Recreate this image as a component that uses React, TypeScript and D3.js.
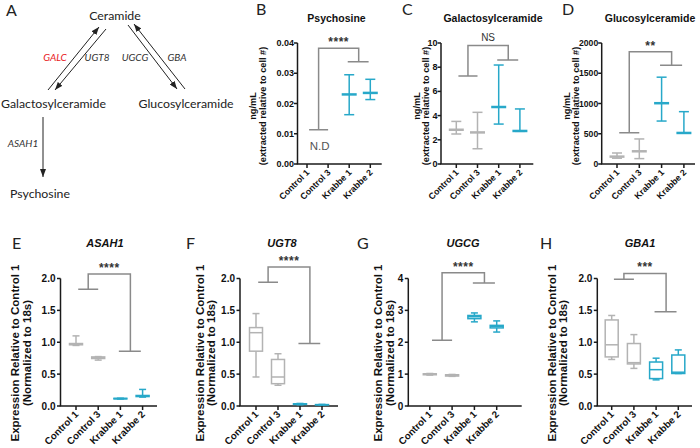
import React from "react";
import * as d3 from "d3";

// ---------- data ----------
const categories = ["Control 1", "Control 3", "Krabbe 1", "Krabbe 2"];
const groupColors = ["#b3b3b3", "#b3b3b3", "#27a8c9", "#27a8c9"];

// B Psychosine (mean, low, high); controls not detected
const psyMean = [NaN, NaN, 0.023, 0.0235];
const psyLow = [NaN, NaN, 0.0163, 0.0213];
const psyHigh = [NaN, NaN, 0.0295, 0.028];
const psyTicks = [0, 0.01, 0.02, 0.03, 0.04];
const psyBracket = [0.0113, 0.0338, 0.0383];

// C Galactosylceramide
const galMean = [2.83, 2.61, 4.71, 2.73];
const galLow = [2.48, 1.26, 3.3, 2.7];
const galHigh = [3.52, 4.27, 8.18, 4.55];
const galTicks = [0, 2, 4, 6, 8, 10];
const galBracket = [7.27, 8.6, 9.79];

// D Glucosylceramide
const gluMean = [122, 210, 1005, 513];
const gluLow = [96, 89, 710, 510];
const gluHigh = [182, 414, 1435, 865];
const gluTicks = [0, 500, 1000, 1500, 2000];
const gluBracket = [515, 1634, 1854];

// E-H box plots: [min, q1, median, q3, max]
const asah1Box = [
  [0.95, 0.96, 0.975, 0.98, 1.1],
  [0.72, 0.745, 0.755, 0.77, 0.775],
  [0.11, 0.112, 0.116, 0.12, 0.122],
  [0.14, 0.148, 0.158, 0.165, 0.26],
];
const asah1Bracket = [1.83, 0.86, 2.07];

const ugt8Box = [
  [0.455, 0.86, 1.15, 1.23, 1.45],
  [0.325, 0.35, 0.455, 0.73, 0.82],
  [0.02, 0.025, 0.03, 0.035, 0.04],
  [0.015, 0.018, 0.02, 0.022, 0.025],
];
const ugt8Bracket = [1.94, 0.98, 2.18];

const ugcgBox = [
  [0.97, 0.98, 1.0, 1.01, 1.02],
  [0.93, 0.94, 0.96, 0.98, 0.99],
  [2.64, 2.74, 2.8, 2.84, 2.92],
  [2.32, 2.45, 2.5, 2.53, 2.67],
];
const ugcgBracket = [2.06, 3.86, 4.18];

const gba1Box = [
  [0.73, 0.77, 0.96, 1.35, 1.42],
  [0.59, 0.66, 0.68, 0.98, 1.12],
  [0.41, 0.43, 0.57, 0.69, 0.75],
  [0.51, 0.51, 0.53, 0.8, 0.88],
];
const gba1Bracket = [1.99, 1.48, 2.08];

const exprTicks = [0, 0.5, 1.0, 1.5, 2.0];
const ugcgTicks = [0, 1, 2, 3, 4];

const FONT = "'Liberation Sans', Arial, sans-serif";
const BRACKET = "#8a8a8a";
const AXIS = "#1a1a1a";

type PanelCfg = {
  axisX: number; top: number; bottom: number; offset: number; step: number; endX: number;
  yMax: number; ticks: number[]; fmt: (v: number) => string;
  tickSize: number; xlabSize: number; ytSize: number; tickGap: number;
  title: string; italic: boolean; titleX: number; titleY: number; titleSize: number;
  letter: string; letterX: number; letterY: number;
  yTitle: string[]; yTitleX: number[]; yTitleY: number;
  kind: "err" | "box";
  mean?: number[]; low?: number[]; high?: number[];
  box?: number[][];
  bracket: number[]; sig: string; sigBold: boolean;
};

function Panel({ p }: { p: PanelCfg }) {
  const y = d3.scaleLinear().domain([0, p.yMax]).range([p.bottom, p.top]);
  const x0 = p.axisX + p.offset;
  const x = d3.scaleLinear().domain([0, 3]).range([x0, x0 + 3 * p.step]);
  const [lf, rf, tp] = p.bracket;
  const lv = x(0.55), rv = x(2.45);
  const bracketPath =
    `M${x(0.1)},${y(lf)}H${x(1.0)}M${lv},${y(lf)}V${y(tp)}H${rv}V${y(rf)}M${x(1.93)},${y(rf)}H${x(2.92)}`;
  return (
    <g>
      <text x={p.letterX} y={p.letterY} fontFamily="Lato, 'Open Sans', sans-serif" fontSize={16} fill="#222">{p.letter}</text>
      <text x={p.titleX} y={p.titleY} textAnchor="middle" fontFamily={FONT} fontWeight="bold"
        fontStyle={p.italic ? "italic" : "normal"} fontSize={p.titleSize} fill="#111">{p.title}</text>
      {p.yTitle.map((t, i) => (
        <text key={i} transform={`translate(${p.yTitleX[i]},${p.yTitleY}) rotate(-90)`} textAnchor="middle"
          dominantBaseline="central" fontFamily={FONT} fontWeight="bold" fontSize={p.ytSize} fill="#111">{t}</text>
      ))}
      {/* axes */}
      <line x1={p.axisX} x2={p.axisX} y1={y(p.yMax)} y2={y(0)} stroke={AXIS} strokeWidth={1.5} />
      <line x1={p.axisX - 0.75} x2={p.endX} y1={y(0)} y2={y(0)} stroke={AXIS} strokeWidth={1.5} />
      {p.ticks.map((t) => (
        <g key={t}>
          <line x1={p.axisX - 3.5} x2={p.axisX} y1={y(t)} y2={y(t)} stroke={AXIS} strokeWidth={1.5} />
          <text x={p.axisX - p.tickGap} y={y(t)} textAnchor="end" dominantBaseline="central" fontFamily={FONT}
            fontWeight="bold" fontSize={p.tickSize} fill="#111">{p.fmt(t)}</text>
        </g>
      ))}
      {categories.map((c, i) => (
        <g key={c}>
          <line x1={x(i)} x2={x(i)} y1={y(0)} y2={y(0) + 4} stroke={AXIS} strokeWidth={1.5} />
          <text transform={`translate(${x(i) + 3},${y(0) + 9}) rotate(-45)`} textAnchor="end"
            fontFamily={FONT} fontWeight="bold" fontSize={p.xlabSize} fill="#111">{c}</text>
        </g>
      ))}
      {/* bracket */}
      <path d={bracketPath} fill="none" stroke={BRACKET} strokeWidth={1.5} />
      <text x={(lv + rv) / 2} y={y(tp) - (p.sigBold ? 2 : 5)} textAnchor="middle" fontFamily={FONT}
        fontWeight={p.sigBold ? "bold" : "normal"} fontSize={p.sigBold ? 12 : 10} letterSpacing={p.sigBold ? 0.5 : 0}
        fill="#333">{p.sig}</text>
      {/* marks */}
      {p.kind === "err" && p.mean!.map((m, i) => {
        if (isNaN(m)) return null;
        const col = groupColors[i];
        const cx = x(i);
        return (
          <g key={i} stroke={col}>
            <line x1={cx} x2={cx} y1={y(p.low![i])} y2={y(p.high![i])} strokeWidth={1.5} />
            <line x1={cx - 5} x2={cx + 5} y1={y(p.low![i])} y2={y(p.low![i])} strokeWidth={1.5} />
            <line x1={cx - 5} x2={cx + 5} y1={y(p.high![i])} y2={y(p.high![i])} strokeWidth={1.5} />
            <line x1={cx - 7.5} x2={cx + 7.5} y1={y(m)} y2={y(m)} strokeWidth={2.5} />
          </g>
        );
      })}
      {p.kind === "box" && p.box!.map((b, i) => {
        const col = groupColors[i];
        const cx = x(i);
        const [mn, q1, md, q3, mx] = b;
        return (
          <g key={i} stroke={col} strokeWidth={1.5}>
            <line x1={cx} x2={cx} y1={y(mn)} y2={y(mx)} />
            <line x1={cx - 3.5} x2={cx + 3.5} y1={y(mn)} y2={y(mn)} />
            <line x1={cx - 3.5} x2={cx + 3.5} y1={y(mx)} y2={y(mx)} />
            <rect x={cx - 6.5} width={13} y={y(q3)} height={Math.max(0.01, y(q1) - y(q3))} fill="#fff" />
            <line x1={cx - 6.5} x2={cx + 6.5} y1={y(md)} y2={y(md)} />
          </g>
        );
      })}
      {p.kind === "err" && isNaN(p.mean![0]) && (
        <text x={x(0.6)} y={y(0.0045)} textAnchor="middle" fontFamily={FONT} fontSize={11.5} fill="#555">N.D</text>
      )}
    </g>
  );
}

const f2 = d3.format(".2f");
const f1 = d3.format(".1f");
const f0 = d3.format("d");

const topCommon = { top: 43, bottom: 164, tickSize: 9, xlabSize: 8.8, ytSize: 9.2, tickGap: 3.5, titleY: 22, titleSize: 10.5, italic: false, letterY: 15, yTitle: ["ng/mL", "(extracted relative to cell #)"], yTitleY: 106, kind: "err" as const };
const botCommon = { top: 278.5, bottom: 406, tickSize: 10, xlabSize: 9.8, ytSize: 11.5, tickGap: 5, titleY: 247, titleSize: 11, italic: true, letterY: 249, yTitle: ["Expression Relative to Control 1", "(Normalized to 18s)"], yTitleY: 353, kind: "box" as const, sigBold: true };

const panels: PanelCfg[] = [
  { ...topCommon, axisX: 297.5, offset: 9.5, step: 21.1, endX: 381.7, yMax: 0.04, ticks: psyTicks, fmt: f2,
    title: "Psychosine", titleX: 336.5, letter: "B", letterX: 256, yTitleX: [253.3, 262.7],
    mean: psyMean, low: psyLow, high: psyHigh, bracket: psyBracket, sig: "****", sigBold: true },
  { ...topCommon, axisX: 441, offset: 15.3, step: 21.2, endX: 533.3, yMax: 10, ticks: galTicks, fmt: f0,
    title: "Galactosylceramide", titleX: 493, letter: "C", letterX: 402, yTitleX: [416.7, 426],
    mean: galMean, low: galLow, high: galHigh, bracket: galBracket, sig: "NS", sigBold: false },
  { ...topCommon, axisX: 601.7, offset: 15.3, step: 22.3, endX: 695, yMax: 2000, ticks: gluTicks, fmt: f0,
    tickSize: 8.6, title: "Glucosylceramide", titleX: 650, letter: "D", letterX: 562, yTitleX: [566.5, 576],
    mean: gluMean, low: gluLow, high: gluHigh, bracket: gluBracket, sig: "**", sigBold: true },
  { ...botCommon, axisX: 60.5, offset: 15.5, step: 22.2, endX: 157, yMax: 2, ticks: exprTicks, fmt: f1,
    title: "ASAH1", titleX: 105, letter: "E", letterX: 12, yTitleX: [15, 26.7],
    box: asah1Box, bracket: asah1Bracket, sig: "****" },
  { ...botCommon, axisX: 240, offset: 16, step: 22, endX: 338, yMax: 2, ticks: exprTicks, fmt: f1,
    title: "UGT8", titleX: 282, letter: "F", letterX: 186, yTitleX: [200, 210.7],
    box: ugt8Box, bracket: ugt8Bracket, sig: "****" },
  { ...botCommon, axisX: 408.3, offset: 21.5, step: 22.3, endX: 521.7, yMax: 4, ticks: ugcgTicks, fmt: f0,
    title: "UGCG", titleX: 463, letter: "G", letterX: 357, yTitleX: [378.3, 390],
    box: ugcgBox, bracket: ugcgBracket, sig: "****" },
  { ...botCommon, axisX: 597.3, offset: 14.4, step: 22.2, endX: 692, yMax: 2, ticks: exprTicks, fmt: f1,
    title: "GBA1", titleX: 640, letter: "H", letterX: 540, yTitleX: [551.7, 563.3],
    box: gba1Box, bracket: gba1Bracket, sig: "***" },
];

// ---------- panel A: pathway diagram ----------
const pathwayNodes = [
  { label: "Ceramide", x: 115, y: 15, anchor: "middle" },
  { label: "Galactosylceramide", x: 1, y: 103, anchor: "start" },
  { label: "Glucosylceramide", x: 186, y: 103, anchor: "middle" },
  { label: "Psychosine", x: 40, y: 193, anchor: "middle" },
];
const enzymeLabels = [
  { label: "GALC", x: 55, y: 57, color: "#e8191c" },
  { label: "UGT8", x: 97, y: 57, color: "#333" },
  { label: "UGCG", x: 135, y: 57, color: "#333" },
  { label: "GBA", x: 177, y: 57, color: "#333" },
  { label: "ASAH1", x: 23, y: 143, color: "#333" },
];
const arrows = [
  [48, 90, 99, 27],
  [106, 29, 55, 90],
  [128, 25, 177, 89],
  [185, 89, 134, 24],
  [43, 117, 43, 177],
];

function PanelA() {
  const dfont = "Lato, 'Open Sans', sans-serif";
  return (
    <g>
      <defs>
        <marker id="ah" viewBox="0 0 8 6" refX={8} refY={3} markerWidth={8} markerHeight={6}
          markerUnits="userSpaceOnUse" orient="auto">
          <path d="M0,0L8,3L0,6z" fill="#222" />
        </marker>
      </defs>
      <text x={6} y={16} fontFamily={dfont} fontSize={16} fill="#222">A</text>
      {pathwayNodes.map((n) => (
        <text key={n.label} x={n.x} y={n.y} textAnchor={n.anchor} dominantBaseline="central"
          fontFamily={dfont} fontSize={12.3} fill="#222">{n.label}</text>
      ))}
      {enzymeLabels.map((e) => (
        <text key={e.label} x={e.x} y={e.y} textAnchor="middle" dominantBaseline="central"
          fontFamily={dfont} fontStyle="italic" fontSize={10} fill={e.color}>{e.label}</text>
      ))}
      {arrows.map((a, i) => (
        <line key={i} x1={a[0]} y1={a[1]} x2={a[2]} y2={a[3]} stroke="#222" strokeWidth={1}
          markerEnd="url(#ah)" />
      ))}
    </g>
  );
}

export default function App() {
  return (
    <svg width={700} height={448} style={{ position: "absolute", left: 0, top: 0, background: "#fff" }}>
      <rect width={700} height={448} fill="#fff" />
      <PanelA />
      {panels.map((p) => <Panel key={p.letter} p={p} />)}
    </svg>
  );
}
